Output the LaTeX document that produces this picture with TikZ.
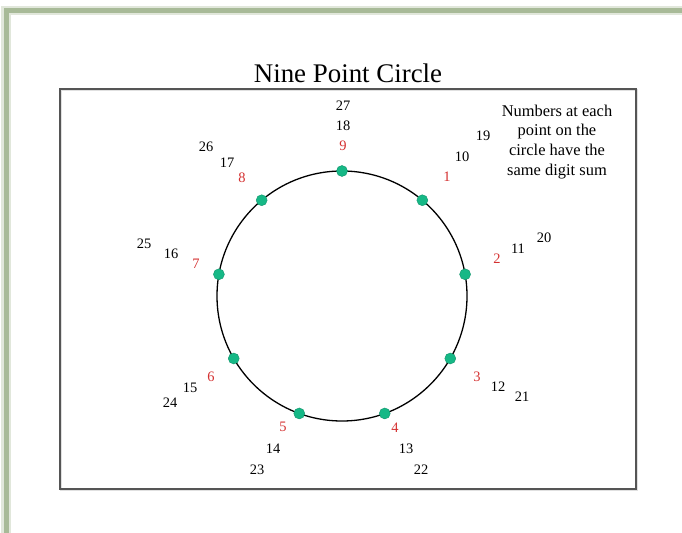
\documentclass[tikz,border=0pt]{standalone}
\usepackage{fontspec}
\setmainfont{Liberation Serif}
\definecolor{framegreen}{RGB}{168,186,152}
\definecolor{boxgray}{RGB}{85,85,85}
\definecolor{numred}{RGB}{212,48,48}
\definecolor{dotgreen}{RGB}{22,184,134}

\begin{document}
\begin{tikzpicture}[x=1bp, y=-1bp,
  dot/.style={circle, fill=dotgreen, draw=dotgreen!80!black, line width=0.4bp,
    inner sep=0pt, minimum size=11bp},
  num/.style={font=\fontsize{14.5}{16}\selectfont, inner sep=0pt},
  root/.style={num, text=numred}]
  \useasboundingbox (0,0) rectangle (682,533);
  % Slide frame (fades to the edges)
  \draw[line width=9bp, framegreen!35] (6,540) -- (6,11) -- (690,11);
  \draw[line width=5bp, framegreen] (6,540) -- (6,11) -- (690,11);

  % Title and plot box
  \node[font=\fontsize{27}{30}\selectfont] (title) at (348,73) {Nine Point Circle};
  \draw[line width=2bp, black!12] (61,90) rectangle (637,490);
  \draw[line width=1.1bp, boxgray] (60,89) rectangle (636,489);

  % The circle and its nine points
  \coordinate (c) at (342,296);
  \draw[line width=1.3bp] (c) circle (125bp);
  \foreach \k/\a in {9/90, 1/50, 2/10, 3/-30, 4/-70, 5/-110, 6/-150, 7/170, 8/130}
    \path (c) ++(\a:125bp) node[dot] (p\k) {};

  % Digit roots (red)
  \node[root] (n9) at (343,146) {9};
  \node[root] (n1) at (447,177) {1};
  \node[root] (n2) at (497,259) {2};
  \node[root] (n3) at (477,377) {3};
  \node[root] (n4) at (395,428) {4};
  \node[root] (n5) at (283,427) {5};
  \node[root] (n6) at (211,377) {6};
  \node[root] (n7) at (196,264) {7};
  \node[root] (n8) at (242,178) {8};

  % Second ring 10--18
  \node[num] (n18) at (343,126) {18};
  \node[num] (n10) at (462,157) {10};
  \node[num] (n11) at (518,249) {11};
  \node[num] (n12) at (498,387) {12};
  \node[num] (n13) at (406,449) {13};
  \node[num] (n14) at (273,449) {14};
  \node[num] (n15) at (190,388) {15};
  \node[num] (n16) at (171,254) {16};
  \node[num] (n17) at (227,163) {17};

  % Third ring 19--27
  \node[num] (n27) at (343,106) {27};
  \node[num] (n19) at (483,136) {19};
  \node[num] (n20) at (544,238) {20};
  \node[num] (n21) at (522,397) {21};
  \node[num] (n22) at (421,470) {22};
  \node[num] (n23) at (257,470) {23};
  \node[num] (n24) at (170,403) {24};
  \node[num] (n25) at (144,244) {25};
  \node[num] (n26) at (206,147) {26};

  % Note, top right
  \node[font=\fontsize{16.5}{20}\selectfont, align=center, inner sep=0pt] (note) at (557,142)
    {Numbers at each\\point on the\\circle have the\\same digit sum};
\end{tikzpicture}
\end{document}
